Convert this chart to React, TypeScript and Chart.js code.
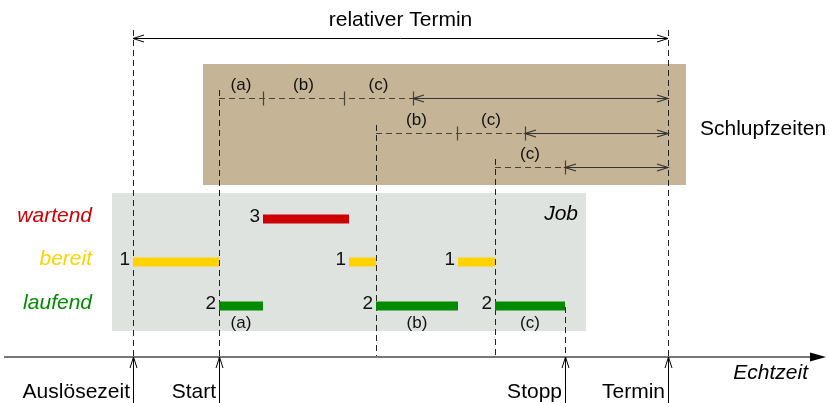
import React, { useEffect, useRef } from "react";
import { Chart, registerables } from "chart.js";

Chart.register(...registerables);

// ---- data (time values on the "Echtzeit" axis) ----
const eventLabels = ["Auslösezeit", "Start", "Stopp", "Termin"];
const eventTimes = [133, 219, 565, 668];

const waitingSegments = [[263, 349]];
const readySegments = [[133, 219], [349, 376], [458, 495]];
const runningSegments = [[219, 263], [376, 458], [495, 565]];
const runningLabels = ["(a)", "(b)", "(c)"];
const waitingNumbers = ["3"];
const readyNumbers = ["1", "1", "1"];
const runningNumbers = ["2", "2", "2"];

// slack rows: dashed remaining parts (boundaries), then slack arrow to deadline
const slackRows = [
  { bounds: [219, 263, 344, 413], labels: ["(a)", "(b)", "(c)"] },
  { bounds: [376, 457, 525], labels: ["(b)", "(c)"] },
  { bounds: [495, 565], labels: ["(c)"] },
];

const stateNames = ["wartend", "bereit", "laufend"];

// ---- layout (vertical rows, in canvas units) ----
const ROW_Y = [219, 262, 306];
const SLACK_Y = [98, 133, 167];
const AXIS_Y = 357;
const REL_Y = 38;
const FONT = "'Liberation Sans', Arial, Helvetica, sans-serif";
const STATE_COLORS = ["#cc0000", "#ffd200", "#008a00"];

function segData(segs: number[][], y: number) {
  const out: any[] = [];
  segs.forEach((s, i) => {
    if (i > 0) out.push({ x: (segs[i - 1][1] + s[0]) / 2, y: null });
    out.push({ x: s[0], y });
    out.push({ x: s[1], y });
  });
  return out;
}

function openHead(ctx: CanvasRenderingContext2D, x: number, y: number, dir: number, len = 11, hw = 3.5) {
  ctx.beginPath();
  ctx.moveTo(x - dir * len, y - hw);
  ctx.lineTo(x, y);
  ctx.lineTo(x - dir * len, y + hw);
  ctx.stroke();
}

const diagramPlugin = {
  id: "diagram",
  beforeDatasetsDraw(chart: any) {
    const { ctx, scales } = chart;
    const X = (v: number) => scales.x.getPixelForValue(v);
    const Y = (v: number) => scales.y.getPixelForValue(v);
    ctx.save();
    // boxes
    ctx.fillStyle = "#c5b496";
    ctx.fillRect(X(203), Y(64), X(686) - X(203), Y(185) - Y(64));
    ctx.fillStyle = "#dfe3df";
    ctx.fillRect(X(112), Y(193), X(586) - X(112), Y(331) - Y(193));

    // vertical dashed lines
    ctx.strokeStyle = "#222";
    ctx.lineWidth = 1;
    ctx.setLineDash([6, 4]);
    const vlines = [
      [eventTimes[0], 30],
      [eventTimes[1], 90],
      [slackRows[1].bounds[0], 125],
      [slackRows[2].bounds[0], 159],
      [eventTimes[2], 307],
      [eventTimes[3], 30],
    ];
    vlines.forEach(([t, top]) => {
      ctx.beginPath();
      ctx.moveTo(Math.round(X(t)) + 0.5, Y(top));
      ctx.lineTo(Math.round(X(t)) + 0.5, Y(AXIS_Y));
      ctx.stroke();
    });

    // slack rows
    slackRows.forEach((row, ri) => {
      const y = Math.round(Y(SLACK_Y[ri])) + 0.5;
      const b = row.bounds;
      const last = b[b.length - 1];
      ctx.strokeStyle = "#4a4232";
      ctx.setLineDash([6, 4]);
      ctx.beginPath();
      ctx.moveTo(X(b[0]), y);
      ctx.lineTo(X(last), y);
      ctx.stroke();
      ctx.setLineDash([]);
      ctx.lineWidth = 1.2;
      b.slice(1).forEach((t) => {
        ctx.beginPath();
        ctx.moveTo(Math.round(X(t)) + 0.5, y - 7);
        ctx.lineTo(Math.round(X(t)) + 0.5, y + 7);
        ctx.stroke();
      });
      ctx.strokeStyle = "#333";
      ctx.beginPath();
      ctx.moveTo(X(last), y);
      ctx.lineTo(X(eventTimes[3]), y);
      ctx.stroke();
      openHead(ctx, X(last), y, -1);
      openHead(ctx, X(eventTimes[3]), y, 1);
      ctx.lineWidth = 1;
      ctx.fillStyle = "#111";
      ctx.font = `17px ${FONT}`;
      ctx.textAlign = "center";
      ctx.textBaseline = "middle";
      row.labels.forEach((l, i) => {
        ctx.fillText(l, (X(b[i]) + X(b[i + 1])) / 2, Y(SLACK_Y[ri] - 13));
      });
    });

    // relativer Termin arrow
    ctx.setLineDash([]);
    ctx.strokeStyle = "#000";
    ctx.lineWidth = 1;
    const ry = Math.round(Y(REL_Y)) + 0.5;
    ctx.beginPath();
    ctx.moveTo(X(eventTimes[0]), ry);
    ctx.lineTo(X(eventTimes[3]), ry);
    ctx.stroke();
    openHead(ctx, X(eventTimes[0]), ry, -1);
    openHead(ctx, X(eventTimes[3]), ry, 1);

    // time axis
    ctx.strokeStyle = "#777";
    ctx.lineWidth = 2;
    ctx.beginPath();
    ctx.moveTo(X(4), Y(AXIS_Y));
    ctx.lineTo(X(814), Y(AXIS_Y));
    ctx.stroke();
    ctx.fillStyle = "#000";
    ctx.beginPath();
    ctx.moveTo(X(826), Y(AXIS_Y));
    ctx.lineTo(X(810), Y(AXIS_Y - 4.5));
    ctx.lineTo(X(810), Y(AXIS_Y + 4.5));
    ctx.closePath();
    ctx.fill();

    // event arrows from below
    ctx.strokeStyle = "#000";
    ctx.lineWidth = 1;
    eventTimes.forEach((t) => {
      const x = Math.round(X(t)) + 0.5;
      ctx.beginPath();
      ctx.moveTo(x, Y(403));
      ctx.lineTo(x, Y(AXIS_Y));
      ctx.stroke();
      ctx.beginPath();
      ctx.moveTo(x - 3.5, Y(AXIS_Y + 11));
      ctx.lineTo(x, Y(AXIS_Y));
      ctx.lineTo(x + 3.5, Y(AXIS_Y + 11));
      ctx.stroke();
    });
    ctx.restore();
  },
  afterDatasetsDraw(chart: any) {
    const { ctx, scales } = chart;
    const X = (v: number) => scales.x.getPixelForValue(v);
    const Y = (v: number) => scales.y.getPixelForValue(v);
    ctx.save();
    ctx.textBaseline = "middle";
    ctx.fillStyle = "#000";
    ctx.font = `21px ${FONT}`;
    ctx.textAlign = "center";
    ctx.fillText("relativer Termin", X((eventTimes[0] + eventTimes[3]) / 2), Y(20));
    ctx.textAlign = "left";
    ctx.fillText("Schlupfzeiten", X(700), Y(129));
    ctx.textAlign = "right";
    eventLabels.forEach((l, i) => {
      ctx.fillText(l, X(eventTimes[i]) - 3, Y(392));
    });
    ctx.font = `italic 21px ${FONT}`;
    ctx.fillText("Echtzeit", X(808), Y(373));
    ctx.fillText("Job", X(578), Y(214));
    stateNames.forEach((s, i) => {
      ctx.fillStyle = STATE_COLORS[i];
      ctx.fillText(s, X(92), Y(ROW_Y[i] - 3));
    });
    ctx.fillStyle = "#111";
    ctx.font = `19px ${FONT}`;
    const nums: [number[][], string[], number][] = [
      [waitingSegments, waitingNumbers, ROW_Y[0]],
      [readySegments, readyNumbers, ROW_Y[1]],
      [runningSegments, runningNumbers, ROW_Y[2]],
    ];
    nums.forEach(([segs, labs, y]) => {
      segs.forEach((s, i) => ctx.fillText(labs[i], X(s[0]) - 3, Y(y - 2)));
    });
    ctx.font = `17px ${FONT}`;
    ctx.textAlign = "center";
    runningSegments.forEach((s, i) => {
      ctx.fillText(runningLabels[i], (X(s[0]) + X(s[1])) / 2, Y(ROW_Y[2] + 17));
    });
    ctx.restore();
  },
};

export default function App() {
  const ref = useRef<HTMLCanvasElement>(null);
  useEffect(() => {
    document.body.style.margin = "0";
    const mk = (segs: number[][], y: number, color: string) => ({
      type: "line" as const,
      data: segData(segs, y),
      borderColor: color,
      borderWidth: 9,
      borderCapStyle: "butt" as const,
      pointRadius: 0,
      spanGaps: false,
    });
    const chart = new Chart(ref.current!, {
      type: "line",
      data: {
        datasets: [
          mk(waitingSegments, ROW_Y[0], STATE_COLORS[0]),
          mk(readySegments, ROW_Y[1], STATE_COLORS[1]),
          mk(runningSegments, ROW_Y[2], STATE_COLORS[2]),
        ],
      },
      options: {
        animation: false,
        responsive: true,
        maintainAspectRatio: false,
        layout: { padding: 0 },
        parsing: false as any,
        plugins: { legend: { display: false }, tooltip: { enabled: false } },
        scales: {
          x: { type: "linear", min: 0, max: 829, display: false },
          y: { type: "linear", min: 0, max: 403, reverse: true, display: false },
        },
      },
      plugins: [diagramPlugin],
    });
    return () => chart.destroy();
  }, []);
  return (
    <div style={{ width: 829, height: 403, position: "relative", background: "#fff" }}>
      <canvas ref={ref} />
    </div>
  );
}
